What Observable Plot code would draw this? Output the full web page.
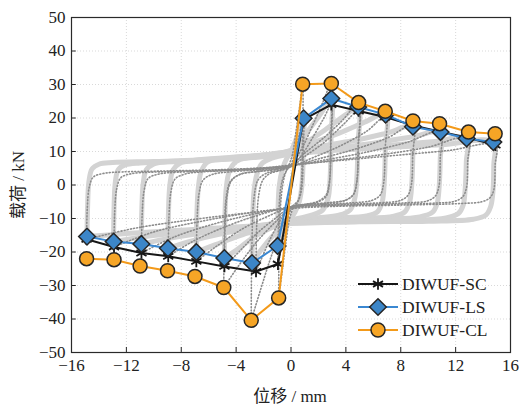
<!DOCTYPE html>
<html><head><meta charset="utf-8">
<script src="https://cdn.jsdelivr.net/npm/d3@7"></script>
<script src="https://cdn.jsdelivr.net/npm/@observablehq/plot@0.6"></script>
<style>
body{margin:0;background:#fff}
#chart{position:relative;width:524px;height:409px}
#chart svg text{font-family:"Liberation Serif","Tinos","Times New Roman","DejaVu Serif",serif}
#chart svg text.cjk{font-family:"Liberation Serif","Noto Sans CJK SC",serif}
</style>
</head><body><div id="chart"></div>
<script>
// ---------- axis ticks ----------
const xTicks = [-16, -12, -8, -4, 0, 4, 8, 12, 16];
const yTicks = [-50, -40, -30, -20, -10, 0, 10, 20, 30, 40, 50];
const xTitle = "位移 / mm";
const yTitle = "载荷 / kN";

// ---------- skeleton (envelope) curves ----------
const scX = [-14.9, -12.9, -10.9, -8.95, -6.9, -4.85, -2.55, -0.95, 0.9, 2.94, 4.93, 6.87, 8.89, 10.9, 12.9, 14.9];
const scY = [-16.2, -18.5, -20.3, -21.3, -22.8, -24.3, -25.8, -23.6, 19.5, 24.0, 22.1, 20.3, 17.8, 15.9, 14.1, 11.9];
const lsX = [-14.87, -12.93, -10.91, -8.97, -6.9, -4.86, -2.84, -0.98, 0.92, 2.94, 4.9, 6.9, 8.89, 10.9, 12.8, 14.75];
const lsY = [-15.4, -16.9, -17.6, -18.9, -20.0, -21.8, -23.3, -18.2, 19.9, 25.8, 23.3, 21.0, 17.4, 15.8, 13.9, 12.8];
const clX = [-14.9, -12.9, -11.0, -9.0, -7.0, -4.9, -2.9, -0.9, 0.85, 2.94, 4.93, 6.87, 8.89, 10.83, 12.94, 14.88];
const clY = [-22.0, -22.3, -24.2, -25.6, -27.3, -30.6, -40.4, -33.7, 30.1, 30.3, 24.6, 22.0, 19.1, 18.3, 15.8, 15.3];
const seriesNames = ["DIWUF-SC", "DIWUF-LS", "DIWUF-CL"];

// ---------- hysteresis loops, light solid (LS specimen) ----------
const loopsSolid = [
  [[-0.98,-18.2],[-0.95,-8],[-0.85,0],[-0.6,5],[-0.3,8],[0,10],[0.4,14],[0.7,17.5],[0.92,19.9],[0.9,10],[0.8,0],[0.6,-5],[0.3,-8],[0,-10],[-0.4,-13],[-0.7,-16],[-0.98,-18.2]],
  [[-2.84,-23.3],[-2.8,-12],[-2.7,-2],[-2.5,3],[-2.1,6.5],[-1.4,8],[-0.5,9],[0,10],[0.6,13],[1.4,17],[2.2,21.5],[2.94,25.8],[2.92,14],[2.85,2],[2.7,-4],[2.3,-7.5],[1.5,-9],[0.5,-10],[0,-10.5],[-0.6,-12.5],[-1.4,-15.5],[-2.2,-19.5],[-2.84,-23.3]],
  [[-4.86,-21.8],[-4.82,-10],[-4.72,-1],[-4.5,4],[-4.0,7],[-3,8.3],[-1.5,9.2],[0,10.3],[1,12.5],[2.5,16.5],[4,21],[4.9,23.2],[4.88,12],[4.8,2],[4.65,-4],[4.3,-7.5],[3.5,-9],[2,-9.8],[0,-10.5],[-1,-12],[-2.5,-15],[-4,-19.5],[-4.86,-21.8]],
  [[-6.9,-20],[-6.86,-9],[-6.76,-1],[-6.55,4],[-6.1,6.8],[-5,7.9],[-3,8.6],[-1,9.4],[0,10.3],[1.5,12.5],[3.5,15.5],[5.5,19],[6.9,21.3],[6.88,11],[6.8,1],[6.65,-5],[6.3,-8],[5.5,-9.2],[3.5,-9.8],[1,-10.2],[0,-10.8],[-1.5,-12.5],[-3.5,-14.8],[-5.5,-17.8],[-6.9,-20]],
  [[-8.97,-18.9],[-8.93,-8],[-8.83,0],[-8.6,4.5],[-8.1,6.5],[-7,7.4],[-4.5,8.2],[-2,8.9],[0,9.8],[2,11.5],[4.5,13.2],[7,15.5],[8.89,17.4],[8.88,9],[8.8,0],[8.65,-5],[8.3,-8],[7.5,-9.3],[5,-10],[2,-10.3],[0,-11],[-2,-12.5],[-5,-14.5],[-7.5,-17],[-8.97,-18.9]],
  [[-10.91,-17.6],[-10.87,-7],[-10.77,0.5],[-10.55,4.5],[-10,6.3],[-9,7],[-6,7.6],[-3,8.3],[0,9.5],[3,11],[6,12.5],[9,14.5],[10.9,15.8],[10.88,8],[10.8,-0.5],[10.65,-5.5],[10.3,-8.2],[9.4,-9.5],[7,-10.2],[3,-10.5],[0,-11],[-3,-12.5],[-6,-14],[-9,-16],[-10.91,-17.6]],
  [[-12.93,-16.9],[-12.9,-7],[-12.8,1],[-12.6,4.5],[-12.1,6],[-11,6.6],[-8,7],[-4,7.8],[0,9.3],[3,10.5],[7,11.8],[10.5,13],[12.8,13.9],[12.78,7],[12.7,-1],[12.55,-6],[12.2,-8.5],[11.3,-9.8],[8.5,-10.5],[4,-10.8],[0,-11.3],[-3,-12.5],[-7,-13.8],[-10.5,-15.3],[-12.93,-16.9]],
  [[-14.87,-15.4],[-14.83,-7],[-14.73,1],[-14.5,4.8],[-14,6.2],[-13,6.7],[-10,7],[-6,7.5],[-2,8.5],[0,9.2],[3,10.3],[7,11.2],[11,12],[14.75,12.8],[14.78,6],[14.72,-2],[14.55,-6.5],[14.2,-9],[13.3,-10.2],[10,-10.8],[5,-11],[0,-11.5],[-4,-12.5],[-8,-13.5],[-12,-14.5],[-14.87,-15.4]]
];

// ---------- hysteresis loops, dotted (SC / CL specimens) ----------
const loopsDotted = [
  [[-0.95,-23.6],[-0.9,-10],[-0.75,-1],[-0.5,3],[-0.2,5],[0,6],[0.3,10],[0.6,15],[0.9,19.5],[0.88,8],[0.78,-1],[0.55,-4.5],[0.2,-6],[0,-7],[-0.3,-11],[-0.6,-17],[-0.95,-23.6]],
  [[-2.55,-25.8],[-2.5,-12],[-2.35,-3],[-2.05,1.5],[-1.5,3.5],[-0.6,4.5],[0,5.5],[0.8,9],[1.7,15],[2.4,20],[2.94,24],[2.9,12],[2.8,1],[2.55,-3],[2.0,-4.8],[1,-5.8],[0,-6.5],[-0.7,-10],[-1.5,-16],[-2.1,-21.5],[-2.55,-25.8]],
  [[-4.85,-24.3],[-4.8,-12],[-4.65,-3],[-4.35,1.2],[-3.7,3.2],[-2.5,4],[-1,4.6],[0,5.5],[1,8.5],[2.5,13],[3.8,18],[4.93,22.1],[4.9,11],[4.8,1],[4.55,-2.8],[4,-4.5],[2.8,-5.3],[1,-5.8],[0,-6.5],[-1,-9.5],[-2.5,-14.5],[-3.8,-20],[-4.85,-24.3]],
  [[-6.9,-22.8],[-6.85,-11],[-6.7,-2.5],[-6.4,1.5],[-5.7,3.2],[-4.5,3.9],[-2.5,4.5],[0,5.5],[1.5,8],[3.5,11.5],[5.5,16],[6.87,20.3],[6.85,10],[6.75,0.5],[6.5,-3],[5.9,-4.6],[4.5,-5.3],[2,-5.8],[0,-6.5],[-1.5,-9],[-3.5,-13],[-5.5,-18.5],[-6.9,-22.8]],
  [[-8.95,-21.3],[-8.9,-10],[-8.75,-2],[-8.45,1.8],[-7.7,3.3],[-6.5,3.9],[-4,4.4],[-1.5,5],[0,5.7],[2,7.8],[4.5,10.5],[7,14],[8.89,17.8],[8.87,9],[8.77,0],[8.5,-3.2],[7.9,-4.7],[6.5,-5.3],[3.5,-5.8],[0,-6.5],[-2,-8.5],[-4.5,-12],[-7,-16.5],[-8.95,-21.3]],
  [[-10.9,-20.3],[-10.85,-9],[-10.7,-1.5],[-10.4,2],[-9.6,3.3],[-8.3,3.8],[-5,4.3],[-2,4.9],[0,5.8],[2.5,7.5],[5.5,9.8],[8.5,12.8],[10.9,15.9],[10.88,8],[10.78,-0.5],[10.5,-3.4],[9.9,-4.8],[8.5,-5.3],[5,-5.8],[1,-6.3],[0,-6.7],[-2.5,-8.5],[-5.5,-11.5],[-8.5,-15.5],[-10.9,-20.3]],
  [[-12.9,-18.5],[-12.85,-8],[-12.7,-1],[-12.4,2.2],[-11.6,3.4],[-10.3,3.8],[-7,4.2],[-3,4.8],[0,5.8],[3,7.3],[6.5,9],[10,11.3],[12.9,14.1],[12.88,7],[12.78,-1],[12.5,-3.6],[11.9,-4.9],[10.5,-5.4],[6,-5.9],[2,-6.3],[0,-6.8],[-3,-8.3],[-6.5,-10.8],[-10,-14],[-12.9,-18.5]],
  [[-14.9,-16.2],[-14.85,-7],[-14.7,-0.5],[-14.4,2.4],[-13.6,3.5],[-12.3,3.9],[-9,4.2],[-5,4.6],[-1.5,5.3],[0,6],[3.5,7.3],[7.5,8.8],[11.5,10.3],[14.9,11.9],[14.88,6],[14.78,-1.5],[14.5,-3.8],[13.9,-5],[12.5,-5.5],[8,-6],[3,-6.4],[0,-7],[-3.5,-8.5],[-7.5,-10.5],[-11.5,-13],[-14.9,-16.2]],
  [[-0.9,-33.7],[-0.85,-15],[-0.7,-3],[-0.45,3],[-0.15,6],[0.1,9],[0.4,17],[0.65,24],[0.85,30.1],[0.83,12],[0.72,-1],[0.5,-5],[0.15,-7],[-0.1,-10],[-0.4,-18],[-0.65,-26],[-0.9,-33.7]],
  [[-2.9,-40.4],[-2.85,-18],[-2.7,-4],[-2.4,1.5],[-1.8,3.5],[-0.8,4.5],[0,6],[0.8,11],[1.6,18],[2.3,24.5],[2.94,30.3],[2.9,14],[2.8,0.5],[2.55,-3.5],[2,-5],[1,-6],[0,-7.5],[-0.7,-13],[-1.5,-22],[-2.2,-31],[-2.9,-40.4]],
  [[-4.9,-30.6],[-4.85,-14],[-4.7,-3],[-4.4,1.2],[-3.7,3.2],[-2.5,4],[-1,4.8],[0,6],[1,9.5],[2.5,14.5],[3.8,19.5],[4.93,24.6],[4.9,12],[4.8,1],[4.55,-2.8],[4,-4.5],[2.8,-5.3],[1,-6],[0,-7],[-1,-10.5],[-2.5,-17],[-3.8,-24],[-4.9,-30.6]]
];

// ---------- build tables ----------
const flatLoops = loops => loops.flatMap((lp, i) => lp.map(([x, y]) => ({x, y, loop: i})));
const toRows = (xs, ys) => xs.map((x, i) => ({x, y: ys[i]}));
const sc = toRows(scX, scY), ls = toRows(lsX, lsY), cl = toRows(clX, clY);

const cBlack = "#161616", cBlue = "#3a88d2", cBlueFill = "#3c86c8", cOrange = "#f39a1a", cOrangeFill = "#f6a526", cEdge = "#262626";
const fmt = d => d < 0 ? "\u2212" + Math.abs(d) : String(d);

const plot = Plot.plot({
  width: 524, height: 409,
  marginLeft: 71, marginRight: 14, marginTop: 17, marginBottom: 57,
  style: {fontSize: "17px", color: "#222", background: "#fff"},
  x: {domain: [-16, 16], ticks: xTicks, tickSize: 0, tickPadding: 6, label: null, tickFormat: fmt},
  y: {domain: [-50, 50], ticks: yTicks, tickSize: 0, tickPadding: 6, label: null, tickFormat: fmt},
  marks: [
    Plot.gridX(xTicks, {stroke: "#d9d9d9", strokeOpacity: 1, strokeDasharray: "1,2"}),
    Plot.gridY(yTicks, {stroke: "#d9d9d9", strokeOpacity: 1, strokeDasharray: "1,2"}),
    Plot.line(flatLoops(loopsSolid), {x: "x", y: "y", z: "loop", stroke: "#d3d3d3", strokeWidth: 5, curve: "catmull-rom", strokeLinejoin: "round"}),
    Plot.line(flatLoops(loopsDotted), {x: "x", y: "y", z: "loop", stroke: "#8c8c8c", strokeWidth: 1.6, strokeDasharray: "1,2.2", curve: "catmull-rom"}),
    Plot.line(sc, {x: "x", y: "y", stroke: cBlack, strokeWidth: 2}),
    Plot.dot(sc, {x: "x", y: "y", symbol: "asterisk", r: 5.5, stroke: cBlack, strokeWidth: 1.8}),
    Plot.line(ls, {x: "x", y: "y", stroke: cBlue, strokeWidth: 2}),
    Plot.dot(ls, {x: "x", y: "y", symbol: "diamond2", r: 7.5, fill: cBlueFill, stroke: cEdge, strokeWidth: 1.5}),
    Plot.line(cl, {x: "x", y: "y", stroke: cOrange, strokeWidth: 2}),
    Plot.dot(cl, {x: "x", y: "y", symbol: "circle", r: 7, fill: cOrangeFill, stroke: cEdge, strokeWidth: 1.5}),
    Plot.ruleX(xTicks, {x: d => d, y1: -50, y2: -48.5, stroke: cEdge}),
    Plot.ruleY(yTicks, {y: d => d, x1: -16, x2: -15.65, stroke: cEdge}),
    Plot.frame({stroke: "#2a2a2a", strokeWidth: 1.2})
  ]
});
document.getElementById("chart").appendChild(plot);

const svg = d3.select(plot);
// axis titles
svg.append("text").attr("class", "cjk").attr("x", 290).attr("y", 402).attr("text-anchor", "middle")
  .attr("font-size", 17).attr("fill", "#222").text(xTitle);
svg.append("text").attr("class", "cjk").attr("transform", "translate(24,185) rotate(-90)").attr("text-anchor", "middle")
  .attr("font-size", 17).attr("fill", "#222").text(yTitle);

// legend (lower right, inside frame)
const leg = svg.append("g").attr("transform", "translate(358,284)").attr("font-size", 17.5);
const specs = [
  {name: seriesNames[0], line: cBlack, sym: d3.symbolAsterisk, size: Math.PI * 30, fill: "none", stroke: cBlack},
  {name: seriesNames[1], line: cBlue, sym: d3.symbolDiamond2, size: Math.PI * 56, fill: cBlueFill, stroke: cEdge},
  {name: seriesNames[2], line: cOrange, sym: d3.symbolCircle, size: Math.PI * 49, fill: cOrangeFill, stroke: cEdge}
];
specs.forEach((s, i) => {
  const g = leg.append("g").attr("transform", `translate(0,${i * 23})`);
  g.append("line").attr("x1", 0).attr("x2", 40).attr("y1", 0).attr("y2", 0).attr("stroke", s.line).attr("stroke-width", 2);
  g.append("path").attr("d", d3.symbol(s.sym, s.size)()).attr("transform", "translate(20,0)")
    .attr("fill", s.fill).attr("stroke", s.stroke).attr("stroke-width", s.sym === d3.symbolAsterisk ? 1.8 : 1.5);
  g.append("text").attr("x", 44).attr("y", 0).attr("dy", "0.35em").attr("text-anchor", "start").attr("fill", "#222").text(s.name);
});
</script>
</body></html>
